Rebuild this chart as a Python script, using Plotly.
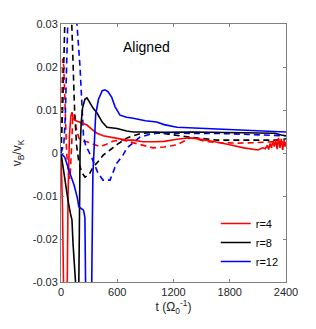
import plotly.graph_objects as go

# ---- data ----
t_r4 = [0, 15, 30, 50, 65, 75, 90, 105, 117, 130, 160, 200, 277, 330, 384, 450, 523, 600, 700, 770, 875, 1000, 1100, 1237, 1344, 1429, 1550, 1643, 1800, 1950, 2100, 2150, 2180, 2200, 2215, 2230, 2245, 2260, 2275, 2290, 2305, 2320, 2335, 2350, 2365, 2380, 2390, 2400]
v_r4 = [0.0, -0.012, -0.035, -0.045, -0.035, -0.01, 0.004, 0.0085, 0.0095, 0.008, 0.0075, 0.0072, 0.0065, 0.0055, 0.0046, 0.004, 0.0037, 0.0033, 0.003, 0.003, 0.0026, 0.0026, 0.0027, 0.0032, 0.0035, 0.0034, 0.003, 0.0026, 0.0019, 0.0012, 0.0007, 0.0012, 0.001, 0.0018, 0.0008, 0.0022, 0.0012, 0.0028, 0.0015, 0.0032, 0.0009, 0.0035, 0.0012, 0.0033, 0.0007, 0.003, 0.0015, 0.0025]

t_r4d = [0, 8, 18, 30, 45, 60, 80, 95, 110, 125, 140, 160, 190, 230, 277, 350, 416, 480, 560, 661, 750, 843, 981, 1100, 1237, 1376, 1429, 1500, 1568, 1700, 1888, 2050, 2250, 2400]
v_r4d = [0.0, 0.015, 0.022, 0.02, 0.01, 0.0, -0.005, -0.006, 0.0, 0.008, 0.009, 0.006, 0.0035, 0.0027, 0.0026, 0.002, 0.0015, 0.002, 0.0028, 0.003, 0.0025, 0.0019, 0.0012, 0.0014, 0.0019, 0.0035, 0.0034, 0.0029, 0.0026, 0.0024, 0.0023, 0.0024, 0.0026, 0.0025]

t_r8 = [0, 10, 40, 75, 100, 117, 128, 149, 165, 185, 195, 203, 215, 230, 255, 277, 300, 340, 384, 440, 490, 597, 700, 770, 900, 1100, 1400, 1700, 2000, 2283, 2350, 2400]
v_r8 = [0.0, -0.0016, -0.006, -0.011, -0.014, -0.0156, -0.021, -0.03, -0.04, -0.04, -0.02, 0.0, 0.007, 0.0105, 0.0125, 0.0128, 0.012, 0.0105, 0.0093, 0.0072, 0.006, 0.0057, 0.0051, 0.0049, 0.0049, 0.0048, 0.0049, 0.0048, 0.0048, 0.0046, 0.0042, 0.004]

t_r8d = [0, 20, 40, 55, 100, 115, 130, 145, 165, 190, 220, 256, 300, 341, 384, 450, 523, 600, 704, 843, 1000, 1100, 1250, 1408, 1664, 2000, 2300, 2400]
v_r8d = [0.0, 0.012, 0.03, 0.04, 0.04, 0.03, 0.02, 0.01, 0.002, -0.002, -0.0045, -0.0056, -0.005, -0.0033, -0.0023, -0.0005, 0.0007, 0.002, 0.0035, 0.0045, 0.0048, 0.0045, 0.004, 0.0036, 0.003, 0.003, 0.003, 0.0033]

t_r12 = [0, 40, 100, 140, 175, 190, 240, 255, 262, 275, 315, 328, 340, 355, 370, 400, 440, 469, 500, 540, 576, 629, 700, 770, 900, 1020, 1100, 1237, 1450, 1700, 2000, 2200, 2400]
v_r12 = [0.0, -0.001, -0.005, -0.0075, -0.0105, -0.0125, -0.0133, -0.015, -0.03, -0.045, -0.045, -0.03, -0.005, 0.003, 0.009, 0.0125, 0.0145, 0.0147, 0.0143, 0.013, 0.0108, 0.0088, 0.0083, 0.0081, 0.0075, 0.0072, 0.0066, 0.006, 0.0058, 0.0055, 0.0052, 0.005, 0.0049]

t_r12d = [0, 30, 45, 60, 75, 90, 150, 170, 203, 224, 240, 265, 288, 330, 395, 448, 523, 590, 661, 704, 775, 843, 940, 1024, 1200, 1500, 1800, 2000, 2200, 2400]
v_r12d = [0.0, 0.002, 0.008, 0.018, 0.03, 0.045, 0.045, 0.03, 0.02, 0.01, 0.004, 0.0015, 0.0007, -0.0012, -0.0047, -0.0063, -0.0063, -0.0025, -0.0005, 0.0012, 0.0025, 0.0037, 0.0043, 0.0046, 0.0046, 0.0046, 0.0045, 0.0043, 0.0041, 0.004]

x_ticks = [0, 600, 1200, 1800, 2400]
y_ticks = [-0.03, -0.02, -0.01, 0, 0.01, 0.02, 0.03]
y_tick_labels = ["-0.03", "-0.02", "-0.01", "0", "0.01", "0.02", "0.03"]
names = ["r=4", "r=8", "r=12"]
colors = ["#ff0000", "#000000", "#0000ff"]

fig = go.Figure()
solid = [(t_r4, v_r4), (t_r8, v_r8), (t_r12, v_r12)]
dashed = [(t_r4d, v_r4d), (t_r8d, v_r8d), (t_r12d, v_r12d)]
for (t, v), c in zip(dashed, colors):
    fig.add_trace(go.Scatter(x=t, y=v, mode="lines", showlegend=False,
                             line=dict(color=c, width=1.6, dash="6px,4px")))
for (t, v), c, n in zip(solid, colors, names):
    fig.add_trace(go.Scatter(x=t, y=v, mode="lines", name=n,
                             line=dict(color=c, width=1.6)))

axis_common = dict(showline=True, linecolor="#808080", linewidth=1, mirror="ticks",
                   ticks="inside", ticklen=3, tickcolor="#808080", showgrid=False,
                   zeroline=False, tickfont=dict(size=11, color="#262626"))
fig.update_xaxes(range=[0, 2400], tickvals=x_ticks, ticktext=[str(v) for v in x_ticks],
                 title=dict(text="t (Ω<sub>0</sub><sup>-1</sup>)", font=dict(size=12, color="#262626"), standoff=4),
                 **axis_common)
fig.update_yaxes(range=[-0.03, 0.03], tickvals=y_ticks, ticktext=y_tick_labels,
                 title=dict(text="v<sub>B</sub>/v<sub>K</sub>", font=dict(size=12, color="#262626"), standoff=8),
                 **axis_common)

fig.add_annotation(x=0.38, y=0.91, xref="paper", yref="paper", text="Aligned",
                   showarrow=False, xanchor="center", yanchor="middle",
                   font=dict(size=14, color="#000000"))

fig.update_layout(
    width=316, height=329,
    margin=dict(l=61, r=30, t=24, b=47),
    paper_bgcolor="white", plot_bgcolor="white",
    font=dict(family="Liberation Sans, Arial, sans-serif"),
    legend=dict(x=0.99, y=0.023, xanchor="right", yanchor="bottom",
                bgcolor="rgba(0,0,0,0)", font=dict(size=11, color="#000000"),
                tracegroupgap=0, itemwidth=30),
)
fig.write_html("out.html", config={"displayModeBar": False},
               post_script="document.body.style.margin='0';")
